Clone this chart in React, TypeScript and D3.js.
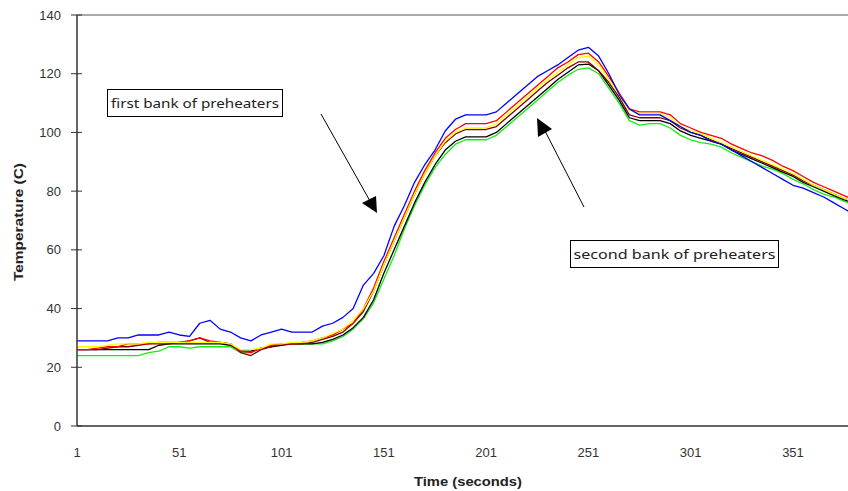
import React from "react";
import * as d3 from "d3";

const times = [1, 6, 11, 16, 21, 26, 31, 36, 41, 46, 51, 56, 61, 66, 71, 76, 81, 86, 91, 96, 101, 106, 111, 116, 121, 126, 131, 136, 141, 146, 151, 156, 161, 166, 171, 176, 181, 186, 191, 196, 201, 206, 211, 216, 221, 226, 231, 236, 241, 246, 251, 256, 261, 266, 271, 276, 281, 286, 291, 296, 301, 306, 311, 316, 321, 326, 331, 336, 341, 346, 351, 356, 361, 366, 371, 376, 381];

const blue = [29, 29, 29, 29, 30, 30, 31, 31, 31, 32, 31, 30.5, 35, 36, 33, 32, 30, 29, 31, 32, 33, 32, 32, 32, 34, 35, 37, 40, 48, 52, 58, 68, 75, 83, 89, 94, 100.5, 104.5, 106, 106, 106, 107, 110, 113, 116, 119, 121, 123, 125.5, 128, 129, 126, 120, 113, 108, 106, 106, 106, 104, 102, 100, 99, 97, 96, 94, 92, 90, 88, 86, 84, 82, 81, 79.5, 78, 76, 74, 72];
const red = [26, 26, 26.5, 27, 27, 28, 28, 28, 28.5, 28.5, 28.5, 29, 30, 29, 28.5, 28, 25.5, 25, 26.5, 27.5, 28, 28, 28.5, 29, 30, 31, 33, 35, 40, 47, 56, 64, 72, 80, 87, 93, 98, 101, 103, 103, 103, 104, 107, 110, 113, 116, 119, 122, 124, 126.5, 127, 124, 119, 113.5, 108, 107, 107, 107, 106, 103, 101.5, 100, 99, 98, 96, 94.5, 93, 92, 90.5, 88.5, 87, 85, 83, 81.5, 80, 78.5, 77];
const yellow = [27, 27, 27, 27.5, 28, 28, 28, 28.5, 28.5, 28.5, 28.5, 28.5, 28.5, 28.5, 28.5, 28, 26, 26, 26.5, 28, 28, 28.5, 28.5, 29, 30, 31.5, 33, 36, 40, 46, 55, 63, 71, 79, 86, 92, 97, 100, 101.5, 101.5, 101.5, 103, 106, 109, 112, 115, 118, 120.5, 123, 125.5, 126, 123, 118, 113, 107.5, 106.5, 106.5, 106.5, 105, 102, 100.5, 99.5, 98, 96.5, 95, 93.5, 92, 90.5, 89, 87.5, 86, 84, 82, 80.5, 79, 77.5, 76.5];
const maroon = [26, 26, 26, 26.5, 27, 27, 27.5, 28, 28, 28, 28.5, 29, 30, 28.5, 28.5, 28, 25, 24, 26, 27, 28, 28, 28, 28.5, 29.5, 30.5, 32, 35, 39, 46, 55, 63, 71, 79, 86, 92, 96.5, 99.5, 101, 101, 101, 102, 105, 108, 111, 114, 117, 119.5, 122, 124, 124, 121, 117, 112, 106, 105, 105, 105, 104, 101.5, 100, 99, 97.5, 96, 94.5, 93, 91.5, 90, 88.5, 87, 85.5, 83.5, 82, 80.5, 79, 77.5, 76.5];
const black = [26, 26, 26, 26, 26, 26, 26, 26, 27.5, 28, 28, 28, 28, 28, 28, 27.5, 25.5, 25.5, 26.5, 27, 27.5, 28, 28, 28, 28.5, 29.5, 31, 33.5, 37, 43, 52, 60, 68, 76, 83, 89, 94, 97, 98.5, 98.5, 98.5, 100, 103, 106, 109, 112, 115, 118, 120.5, 123, 123.3, 121, 116, 111, 105, 104, 104, 104, 103, 100.5, 99, 98, 97, 96, 94, 92.5, 91, 89.5, 88, 86.5, 85, 83, 81.5, 80, 78.5, 77, 76];
const green = [24, 24, 24, 24, 24, 24, 24, 25, 25.5, 27, 27, 26.5, 27, 27, 27, 27, 25, 25, 26.5, 27, 28, 28, 28, 28, 28, 29, 30.5, 33, 36.5, 42, 50, 58, 67, 75, 82, 88, 92.5, 96, 97.5, 97.5, 97.5, 99, 102, 105, 108, 111, 114, 117, 119.5, 121.5, 122, 120, 115, 110, 104, 102.5, 103, 103, 101.5, 99, 97.5, 96.5, 96, 95, 93, 91.5, 90, 88.5, 87.5, 86, 84, 82.5, 80.5, 79, 78, 76.5, 75.5];

const seriesNames = ["blue", "red", "yellow", "maroon", "black", "green"];
const seriesValues = [blue, red, yellow, maroon, black, green];
const seriesColors = ["#0000ff", "#ff0000", "#ffff00", "#800000", "#000000", "#11ee11"];
const drawOrder = [5, 4, 3, 1, 2, 0];

const xTicks = [1, 51, 101, 151, 201, 251, 301, 351];
const yTicks = [0, 20, 40, 60, 80, 100, 120, 140];

const W = 848;
const H = 491;

export default function App() {
  const x = d3.scaleLinear().domain([1, 351]).range([77, 793]);
  const y = d3.scaleLinear().domain([0, 140]).range([426, 15]);
  const line = d3
    .line<number>()
    .x((_, i) => x(times[i]))
    .y((d) => y(d));

  const tickFont = "'Liberation Sans Narrow', 'Liberation Sans', Arial, sans-serif";
  const labelFont = "'Liberation Sans', Arial, sans-serif";
  const annFont = "'Noto Sans', 'DejaVu Sans', sans-serif";

  return (
    <svg
      width={W}
      height={H}
      style={{ position: "absolute", left: 0, top: 0, background: "#fff" }}
    >
      <rect x={0} y={0} width={W} height={H} fill="#fff" />
      <defs>
        <clipPath id="plot">
          <rect x={77} y={0} width={W - 77} height={427} />
        </clipPath>
      </defs>
      {/* top border */}
      <line x1={77} x2={W} y1={y(140)} y2={y(140)} stroke="#555" strokeWidth={1} />
      {/* series */}
      <g clipPath="url(#plot)">
        {drawOrder.map((si) => (
          <path
            key={seriesNames[si]}
            d={line(seriesValues[si]) || ""}
            fill="none"
            stroke={seriesColors[si]}
            strokeWidth={1.3}
            strokeLinejoin="round"
          />
        ))}
      </g>
      {/* axes */}
      <line x1={77} x2={77} y1={y(140)} y2={y(0)} stroke="#333" strokeWidth={1.5} />
      <line x1={77} x2={W} y1={y(0)} y2={y(0)} stroke="#333" strokeWidth={1.5} />
      {yTicks.map((t) => (
        <g key={"y" + t}>
          <line x1={71} x2={82} y1={y(t)} y2={y(t)} stroke="#333" strokeWidth={1} />
          <text
            x={61}
            y={y(t)}
            dy="0.35em"
            textAnchor="end"
            fontFamily={labelFont}
            fontSize={13}
            fill="#333"
          >
            {t}
          </text>
        </g>
      ))}
      {xTicks.map((t) => (
        <text
          key={"x" + t}
          x={x(t)}
          y={457}
          textAnchor="middle"
          fontFamily={tickFont}
          fontSize={13}
          fill="#333"
        >
          {t}
        </text>
      ))}
      <text
        x={468}
        y={486}
        textAnchor="middle"
        fontFamily={labelFont}
        fontWeight="bold"
        fontSize={13}
        fill="#222"
        textLength={108}
        lengthAdjust="spacingAndGlyphs"
      >
        Time (seconds)
      </text>
      <text
        transform={`translate(23,${222}) rotate(-90)`}
        textAnchor="middle"
        fontFamily={labelFont}
        fontWeight="bold"
        fontSize={13}
        fill="#222"
        textLength={118}
        lengthAdjust="spacingAndGlyphs"
      >
        Temperature (C)
      </text>
      {/* annotations */}
      <rect x={107.5} y={89.5} width={175} height={27} fill="#fff" stroke="#000" strokeWidth={1} />
      <text x={195} y={108} textAnchor="middle" fontFamily={annFont} fontSize={13} fill="#222" textLength={168} lengthAdjust="spacingAndGlyphs">
        first bank of preheaters
      </text>
      <rect x={570.5} y={240.5} width={208} height={27} fill="#fff" stroke="#000" strokeWidth={1} />
      <text x={674.5} y={259} textAnchor="middle" fontFamily={annFont} fontSize={13} fill="#222" textLength={202} lengthAdjust="spacingAndGlyphs">
        second bank of preheaters
      </text>
      <line x1={321} y1={114} x2={370} y2={201} stroke="#000" strokeWidth={1} />
      <polygon points="377,213 362,203 376,196" fill="#000" />
      <line x1={584} y1={207} x2={545} y2={131} stroke="#000" strokeWidth={1} />
      <polygon points="537,118 552,129 538,137" fill="#000" />
    </svg>
  );
}
